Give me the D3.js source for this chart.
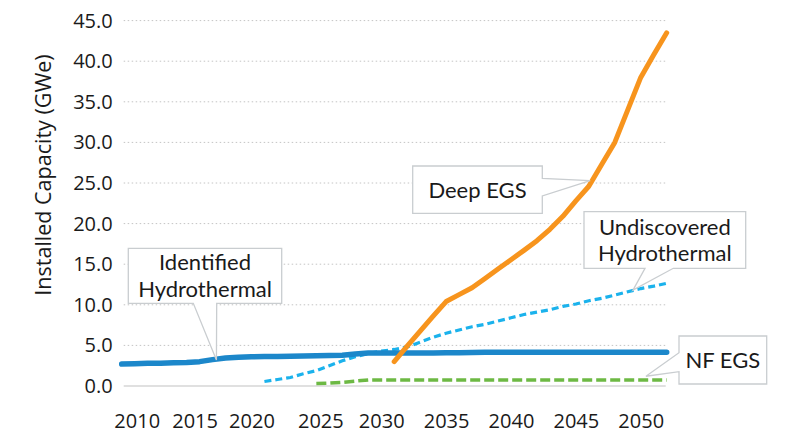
<!DOCTYPE html>
<html>
<head>
  <meta charset="UTF-8">
  <style>
    body { margin: 0; background: #fff; }
    text { font-family: "Open Sans", "Noto Sans", sans-serif; fill: #1a1a1a; }
  </style>
  <title>Installed Capacity (GWe)</title>
</head>
<body>
  <script src="https://cdn.jsdelivr.net/npm/d3@7"></script>
  <script>
    // data, one value per year
    var years = d3.range(2010, 2053);

    // Identified Hydrothermal, 2010 - 2052
    var identified = [2.7, 2.75, 2.8, 2.8, 2.85, 2.9, 3.0, 3.25, 3.45, 3.55,
      3.6, 3.62, 3.64, 3.66, 3.7, 3.72, 3.75, 3.8, 3.95, 4.05,
      4.05, 4.05, 4.05, 4.06, 4.07, 4.08, 4.1, 4.12, 4.15, 4.15,
      4.15, 4.15, 4.15, 4.15, 4.15, 4.15, 4.15, 4.15, 4.15, 4.15,
      4.15, 4.15, 4.15];

    // Undiscovered Hydrothermal, 2021 - 2052
    var undiscoveredStart = 2021;
    var undiscovered = [0.55, 0.8, 1.05, 1.5, 1.9, 2.5, 3.1, 3.6, 4.0, 4.3,
      4.5, 4.8, 5.4, 6.0, 6.5, 6.9, 7.3, 7.6, 8.0, 8.4,
      8.8, 9.1, 9.4, 9.8, 10.1, 10.5, 10.8, 11.2, 11.6, 12.0,
      12.3, 12.65];

    // NF EGS, 2025 - 2052
    var nfStart = 2025;
    var nfEgs = [0.3, 0.35, 0.45, 0.6, 0.75, 0.75, 0.75, 0.75, 0.75, 0.75,
      0.75, 0.75, 0.75, 0.75, 0.75, 0.75, 0.75, 0.75, 0.75, 0.75,
      0.75, 0.75, 0.75, 0.75, 0.75, 0.75, 0.75, 0.75];

    // Deep EGS, 2031 - 2052
    var deepStart = 2031;
    var deepEgs = [3.0, 4.9, 6.75, 8.6, 10.4, 11.25, 12.1, 13.25, 14.4, 15.55,
      16.7, 17.9, 19.3, 20.9, 22.8, 24.6, 27.3, 30.0, 34.0, 38.0,
      40.8, 43.5];

    var xTicks = [2010, 2015, 2020, 2025, 2030, 2035, 2040, 2045, 2050];
    var yTicks = [0, 5, 10, 15, 20, 25, 30, 35, 40, 45];

    // callout labels: text lines and the point on the line they point at
    var calloutText = [["Identified", "Hydrothermal"], ["Deep EGS"], ["Undiscovered", "Hydrothermal"], ["NF EGS"]];
    var calloutTip = [[2017.3, 3.2], [2046.1, 25.3], [2049.4, 11.8], [2050.4, 1.2]];

    var width = 794;
    var height = 436;

    var x = d3.scaleLinear().domain([2010, 2052]).range([121.7, 666.7]);
    var y = d3.scaleLinear().domain([0, 45]).range([386, 20.6]);

    var svg = d3.select("body").append("svg")
      .attr("width", width)
      .attr("height", height);

    // grid lines
    svg.append("g").selectAll("line")
      .data(yTicks.filter(function(d) { return d > 0; }))
      .enter().append("line")
      .attr("x1", x(2010) + 2).attr("x2", x(2052) - 1)
      .attr("y1", function(d) { return y(d); })
      .attr("y2", function(d) { return y(d); })
      .attr("stroke", "#c4c4c4")
      .attr("stroke-width", 1)
      .attr("stroke-dasharray", "1.5,2.5");

    // base line
    svg.append("line")
      .attr("x1", x(2010) + 2).attr("x2", x(2052) - 1)
      .attr("y1", y(0)).attr("y2", y(0))
      .attr("stroke", "#d6d6d6")
      .attr("stroke-width", 1.5);

    // axes
    var xAxis = d3.axisBottom(x).tickValues(xTicks).tickFormat(d3.format("d"))
      .tickSize(0).tickPadding(28);
    var gx = svg.append("g")
      .attr("transform", "translate(0," + y(0) + ")")
      .call(xAxis);
    gx.select(".domain").remove();
    // the first labels sit a bit right of their ticks in the original
    var shift = { 2010: 15, 2015: 8, 2025: 4 };
    gx.selectAll("text")
      .attr("font-size", 20)
      .attr("font-family", "Open Sans")
      .attr("fill", "#1a1a1a")
      .attr("dx", function(d) { return shift[d] || 0; });

    var yAxis = d3.axisLeft(y).tickValues(yTicks).tickFormat(d3.format(".1f"))
      .tickSize(0).tickPadding(9);
    var gy = svg.append("g")
      .attr("transform", "translate(" + x(2010) + ",0)")
      .call(yAxis);
    gy.select(".domain").remove();
    gy.selectAll("text")
      .attr("font-size", 20)
      .attr("font-family", "Open Sans")
      .attr("fill", "#1a1a1a");

    svg.append("text")
      .attr("transform", "translate(51,175) rotate(-90)")
      .attr("text-anchor", "middle")
      .attr("font-size", 21.5)
      .text("Installed Capacity (GWe)");

    // lines
    function series(start, values) {
      return values.map(function(v, i) { return { year: start + i, value: v }; });
    }
    var line = d3.line()
      .x(function(d) { return x(d.year); })
      .y(function(d) { return y(d.value); });

    svg.append("path")
      .datum(series(nfStart, nfEgs))
      .attr("d", line)
      .attr("fill", "none")
      .attr("stroke", "#6db944")
      .attr("stroke-width", 3.5)
      .attr("stroke-dasharray", "10,4");

    svg.append("path")
      .datum(series(undiscoveredStart, undiscovered))
      .attr("d", line)
      .attr("fill", "none")
      .attr("stroke", "#1bb2ec")
      .attr("stroke-width", 3.2)
      .attr("stroke-dasharray", "7,4");

    svg.append("path")
      .datum(series(2010, identified))
      .attr("d", line)
      .attr("fill", "none")
      .attr("stroke", "#1c87ca")
      .attr("stroke-width", 5.5)
      .attr("stroke-linecap", "round")
      .attr("stroke-linejoin", "round");

    svg.append("path")
      .datum(series(deepStart, deepEgs))
      .attr("d", line)
      .attr("fill", "none")
      .attr("stroke", "#f7941d")
      .attr("stroke-width", 5)
      .attr("stroke-linecap", "round")
      .attr("stroke-linejoin", "round");

    // callout boxes: box, side of the pointer and where it leaves the box
    var boxes = [
      { x: 128.3, y: 248.3, w: 153.4, h: 55, side: "bottom", a: 193.3, b: 216.7 },
      { x: 412.7, y: 166, w: 129.6, h: 47.3, side: "right", a: 178.3, b: 196 },
      { x: 584, y: 211.7, w: 161.7, h: 56.6, side: "bottom", a: 645, b: 673.3 },
      { x: 679, y: 336, w: 87.7, h: 48, side: "left", a: 352.7, b: 371.7 }
    ];

    function calloutPath(bx, tip) {
      var x0 = bx.x, y0 = bx.y, x1 = bx.x + bx.w, y1 = bx.y + bx.h;
      var p = d3.path();
      p.moveTo(x0, y0);
      p.lineTo(x1, y0);
      if (bx.side === "right") {
        p.lineTo(x1, bx.a); p.lineTo(tip[0], tip[1]); p.lineTo(x1, bx.b);
      }
      p.lineTo(x1, y1);
      if (bx.side === "bottom") {
        p.lineTo(bx.b, y1); p.lineTo(tip[0], tip[1]); p.lineTo(bx.a, y1);
      }
      p.lineTo(x0, y1);
      if (bx.side === "left") {
        p.lineTo(x0, bx.b); p.lineTo(tip[0], tip[1]); p.lineTo(x0, bx.a);
      }
      p.closePath();
      return p.toString();
    }

    var callouts = svg.append("g").selectAll("g")
      .data(boxes)
      .enter().append("g");

    callouts.append("path")
      .attr("d", function(d, i) {
        var t = calloutTip[i];
        return calloutPath(d, [x(t[0]), y(t[1])]);
      })
      .attr("fill", "#fff")
      .attr("stroke", "#c9cdd0")
      .attr("stroke-width", 1.3);

    // Lato keeps the two lines tight without the text boxes colliding
    callouts.each(function(d, i) {
      var lines = calloutText[i];
      var g = d3.select(this);
      var lh = 26.6;
      var cy = d.y + d.h / 2 - (lines.length - 1) * lh / 2;
      lines.forEach(function(t, k) {
        g.append("text")
          .attr("x", d.x + d.w / 2)
          .attr("y", cy + k * lh)
          .attr("dy", "0.36em")
          .attr("text-anchor", "middle")
          .style("font-family", "Lato, 'Open Sans', sans-serif")
          .style("font-size", "22px")
          .text(t);
      });
    });
  </script>
</body>
</html>
